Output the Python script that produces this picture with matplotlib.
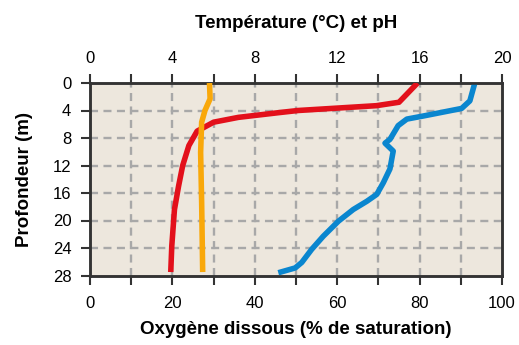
import matplotlib
matplotlib.use("Agg")
from matplotlib import pyplot as plt

plt.rcParams['font.family'] = ['Liberation Sans', 'DejaVu Sans']

# profondeur (m) et valeurs lues pour chaque courbe
temp_depth = [0, 2.8, 3.3, 4.0, 4.3, 5.0, 5.7, 7.0, 9.1, 12.0, 15.0, 18.4, 23.7, 27.5]
temp = [15.9, 15.0, 13.9, 10.1, 9.2, 7.2, 6.0, 5.2, 4.8, 4.5, 4.3, 4.1, 3.97, 3.92]

ph_depth = [0, 2.3, 4.0, 5.7, 10.1, 17.4, 27.5]
ph = [5.8, 5.83, 5.58, 5.42, 5.37, 5.42, 5.47]

oxy_depth = [0, 2.6, 3.7, 4.8, 5.25, 6.2, 8.2, 8.75, 9.9, 12.5, 14.5, 16.2, 17.2,
             18.4, 20.1, 22.3, 24.2, 26.1, 26.9, 27.6]
oxy = [93.4, 92.2, 90.2, 80.9, 76.9, 74.8, 72.8, 71.6, 73.6, 72.8, 71.2, 69.6, 67.2,
       63.9, 60.3, 56.6, 53.8, 51.4, 49.8, 45.7]

depth_ticks = [0, 4, 8, 12, 16, 20, 24, 28]
oxy_ticks = [0, 20, 40, 60, 80, 100]
temp_ticks = [0, 4, 8, 12, 16, 20]

fig = plt.figure(figsize=(5.19, 3.45), dpi=100)
ax = fig.add_axes([90/519, 69.5/345, 412/519, 192.5/345])
ax.set_facecolor('#ede7dd')

# quadrillage en tirets
for x in range(10, 100, 10):
    ax.axvline(x, color='#a8a8a8', lw=1.7, dashes=(3.4, 2.3), zorder=1)
for y in range(4, 28, 4):
    ax.axhline(y, color='#a8a8a8', lw=1.7, dashes=(3.4, 2.3), zorder=1)

ax.plot(oxy, oxy_depth, color='#0a86cf', lw=4, solid_capstyle='butt', zorder=3)
ax.set_xlim(0, 100)
ax.set_ylim(28, 0)
ax.set_xticks(range(0, 101, 10))
ax.set_xticklabels([str(v) if v in oxy_ticks else '' for v in range(0, 101, 10)])
ax.set_yticks(depth_ticks)
ax.set_xlabel('Oxygène dissous (% de saturation)', fontsize=13.5, fontweight='bold', labelpad=7)
ax.set_ylabel('Profondeur (m)', fontsize=13.5, fontweight='bold', labelpad=14)

# axe du haut : température et pH
ax2 = ax.twiny()
ax2.plot(temp, temp_depth, color='#e3101b', lw=4, solid_capstyle='butt', zorder=3)
ax2.plot(ph, ph_depth, color='#f9a80a', lw=4, solid_capstyle='butt', zorder=3)
ax2.set_xlim(0, 20)
ax2.set_xticks(range(0, 21, 2))
ax2.set_xticklabels([str(v) if v in temp_ticks else '' for v in range(0, 21, 2)])
ax2.set_xlabel('Température (°C) et pH', fontsize=13.5, fontweight='bold', labelpad=16)

for a in (ax, ax2):
    for s in a.spines.values():
        s.set_color('#333333')
        s.set_linewidth(1.8)
    a.tick_params(length=6.5, width=1.5, color='#333333', labelsize=12)
ax.tick_params(axis='x', pad=8.5)
ax2.tick_params(axis='x', pad=6)
ax.tick_params(axis='y', pad=7)

fig.savefig('out.png', dpi=100, facecolor='white')
